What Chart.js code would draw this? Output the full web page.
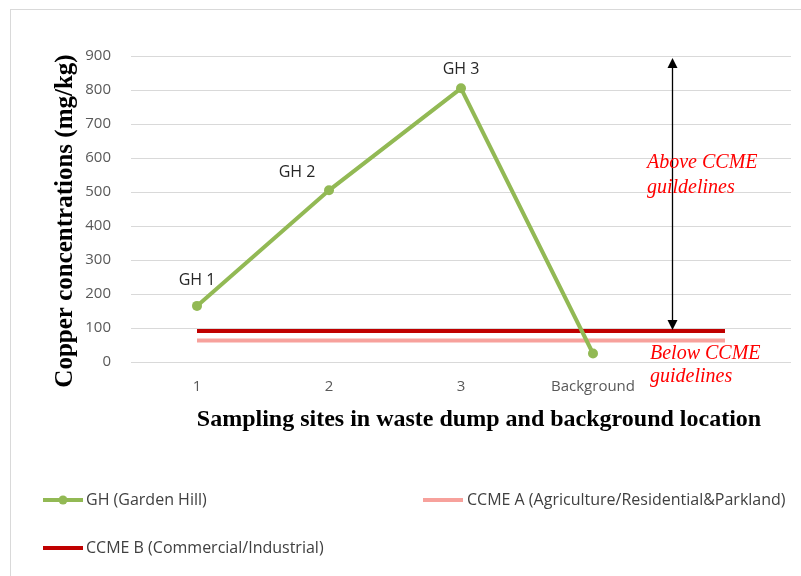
<!DOCTYPE html>
<html>
<head>
<meta charset="utf-8">
<script src="https://cdn.jsdelivr.net/npm/chart.js@4"></script>
<style>
  body { margin: 0; background: #fff; }
  #wrap { width: 801px; height: 576px; }
</style>
</head>
<body>
<div id="wrap"><canvas id="myChart" width="801" height="576"></canvas></div>
<script>
// Chart data
const categories = ['1', '2', '3', 'Background', ''];
const ghValues = [165, 505, 805, 25, null];
const ccmeA = [63, 63, 63, 63, 63];
const ccmeB = [91, 91, 91, 91, 91];
const pointLabels = ['GH 1', 'GH 2', 'GH 3', ''];
const labelShiftX = [0, -32, 0, 0]; // GH 2 label sits left of its point
const labelShiftY = [-25, -18, -19, 0];

const green = '#92b954';
const pink = '#f7a19c';
const darkRed = '#c00000';

// Extra drawing: border, point labels, arrow, notes, axis titles, legend
const extras = {
    id: 'extras',
    beforeDraw(chart) {
        const c = chart.ctx;
        c.save();
        c.strokeStyle = '#d9d9d9';
        c.lineWidth = 1;
        c.strokeRect(10.5, 9.5, 800, 580);
        c.restore();
    },
    afterDraw(chart) {
        const c = chart.ctx;
        const x = chart.scales.x;
        const y = chart.scales.y;
        c.save();

        // point labels
        const meta = chart.getDatasetMeta(0);
        c.font = '16px "Open Sans", sans-serif';
        c.fillStyle = '#262626';
        c.textAlign = 'center';
        c.textBaseline = 'middle';
        meta.data.forEach((pt, i) => {
            if (!pointLabels[i]) return;
            c.fillText(pointLabels[i], pt.x + labelShiftX[i], pt.y + labelShiftY[i]);
        });

        // double-headed arrow between 900 and CCME B
        const ax = Math.round(x.getPixelForValue(3.6)) + 0.5;
        const top = y.getPixelForValue(900) + 2;
        const bot = y.getPixelForValue(ccmeB[0]) - 1;
        c.strokeStyle = '#000';
        c.fillStyle = '#000';
        c.lineWidth = 1.3;
        c.beginPath();
        c.moveTo(ax, top + 8);
        c.lineTo(ax, bot - 8);
        c.stroke();
        c.beginPath();
        c.moveTo(ax, top); c.lineTo(ax - 5, top + 10); c.lineTo(ax + 5, top + 10); c.closePath();
        c.fill();
        c.beginPath();
        c.moveTo(ax, bot); c.lineTo(ax - 5, bot - 10); c.lineTo(ax + 5, bot - 10); c.closePath();
        c.fill();

        // red notes
        c.fillStyle = '#ff0000';
        c.font = 'italic 20px "Liberation Serif", serif';
        c.textAlign = 'left';
        c.fillText('Above CCME', 647, 163);
        c.fillText('guildelines', 647, 188);
        c.fillText('Below CCME', 650, 354);
        c.fillText('guidelines', 650, 377);

        // axis titles
        c.fillStyle = '#000';
        c.font = 'bold 24px "Liberation Serif", serif';
        c.textAlign = 'center';
        c.fillText('Sampling sites in waste dump and background location', 479, 420);
        c.save();
        c.translate(66, 221);
        c.rotate(-Math.PI / 2);
        c.font = 'bold 25px "Liberation Serif", serif';
        c.fillText('Copper concentrations (mg/kg)', 0, 0);
        c.restore();

        // legend
        c.font = '16px "Open Sans", sans-serif';
        c.fillStyle = '#404040';
        c.textAlign = 'left';
        c.lineCap = 'butt';
        c.lineWidth = 4;
        c.strokeStyle = green;
        c.beginPath(); c.moveTo(43, 500); c.lineTo(83, 500); c.stroke();
        c.fillStyle = green;
        c.beginPath(); c.arc(63, 500, 4.5, 0, Math.PI * 2); c.fill();
        c.fillStyle = '#404040';
        c.fillText('GH (Garden Hill)', 86, 500);

        c.strokeStyle = pink;
        c.beginPath(); c.moveTo(423, 500); c.lineTo(463, 500); c.stroke();
        c.fillText('CCME A (Agriculture/Residential&Parkland)', 467, 500);

        c.strokeStyle = darkRed;
        c.beginPath(); c.moveTo(43, 548); c.lineTo(83, 548); c.stroke();
        c.fillText('CCME B (Commercial/Industrial)', 86, 548);

        c.restore();
    }
};

const ctx = document.getElementById('myChart');
const myChart = new Chart(ctx, {
    type: 'line',
    data: {
        labels: categories,
        datasets: [
            {
                label: 'GH (Garden Hill)',
                data: ghValues,
                borderColor: green,
                backgroundColor: green,
                borderWidth: 4,
                pointRadius: 5,
                pointBorderWidth: 0,
                pointHoverRadius: 5,
                tension: 0
            },
            {
                label: 'CCME A (Agriculture/Residential&Parkland)',
                data: ccmeA,
                borderColor: pink,
                backgroundColor: pink,
                borderWidth: 4,
                pointRadius: 0
            },
            {
                label: 'CCME B (Commercial/Industrial)',
                data: ccmeB,
                borderColor: darkRed,
                backgroundColor: darkRed,
                borderWidth: 4,
                pointRadius: 0
            }
        ]
    },
    options: {
        responsive: false,
        animation: false,
        layout: { padding: { left: 40, top: 56, right: 10, bottom: 130 } },
        plugins: {
            legend: { display: false },
            tooltip: { enabled: false },
            title: { display: false }
        },
        scales: {
            x: {
                offset: true,
                grid: { display: false },
                border: { display: false },
                ticks: { color: '#595959', font: { size: 15, family: '"Open Sans", sans-serif' }, padding: 8 },
                afterFit(scale) { scale.height = 84; }
            },
            y: {
                min: 0,
                max: 900,
                ticks: { stepSize: 100, color: '#595959', font: { size: 15, family: '"Open Sans", sans-serif' }, padding: 20 },
                grid: { color: '#d9d9d9', drawTicks: false },
                border: { display: false },
                afterFit(scale) { scale.width = 91; }
            }
        }
    },
    plugins: [extras]
});
</script>
</body>
</html>
